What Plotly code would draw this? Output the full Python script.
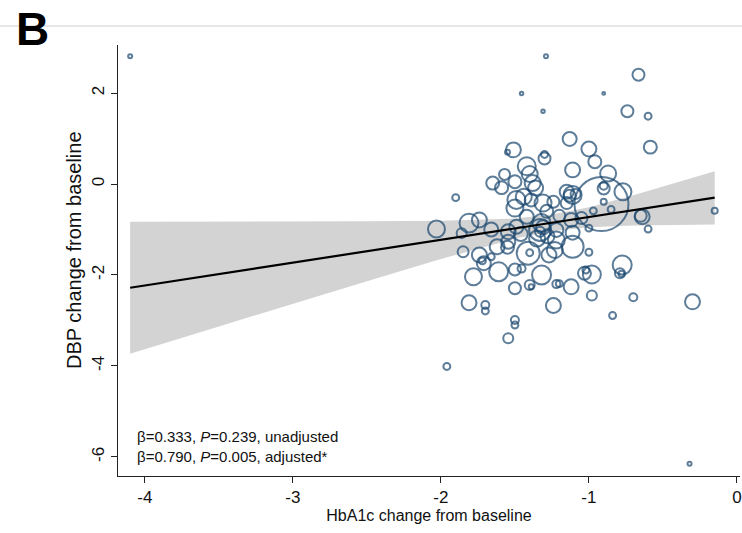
import plotly.graph_objects as go
import numpy as np

# ---- data ----
hba1c_change = [
    -4.10, -1.29, -1.455, -1.31, -0.90, -0.665, -0.74, -0.60, -0.32, -0.15,
    -1.96, -1.13, -1.00, -0.585, -1.51, -1.55, -1.30, -1.30, -0.96, -1.11,
    -1.42, -1.40, -0.87, -1.57, -1.65, -1.50, -1.59, -1.38, -1.36, -0.90,
    -0.90, -0.77, -0.915, -0.90, -1.90, -1.15, -1.11, -1.09, -1.13, -1.44,
    -1.31, -1.50, -1.24, -1.15, -1.285, -1.49, -1.39, -0.97, -0.85, -0.64,
    -0.65, -0.60, -1.00, -2.03, -1.81, -1.74, -1.86, -1.66, -1.545, -1.49,
    -1.33, -1.32, -1.31, -1.33, -1.22, -1.11, -1.12, -1.545, -1.22, -1.11,
    -1.62, -1.55, -1.85, -1.74, -1.72, -1.66, -1.41, -1.40, -1.27, -1.23,
    -1.00, -1.71, -1.61, -1.50, -1.455, -1.32, -1.78, -0.775, -0.79, -0.78,
    -1.03, -1.02, -0.98, -1.50, -1.40, -1.39, -1.22, -1.20, -1.12, -0.98,
    -0.70, -1.81, -1.70, -1.70, -1.24, -0.84, -0.30, -1.50, -1.50, -1.545,
    -1.42, -1.20, -1.35, -1.28, -1.05, -1.46,
]
dbp_change = [
    2.81, 2.81, 1.99, 1.60, 1.99, 2.40, 1.60, 1.49, -6.15, -0.59,
    -4.01, 0.99, 0.77, 0.81, 0.75, 0.70, 0.65, 0.56, 0.49, 0.31,
    0.39, 0.22, 0.23, 0.21, 0.02, 0.05, -0.08, 0.02, -0.09, -0.10,
    -0.04, -0.17, -0.44, -0.39, -0.30, -0.17, -0.24, -0.22, -0.26, -0.28,
    -0.42, -0.53, -0.39, -0.42, -0.60, -0.35, -0.35, -0.59, -0.56, -0.72,
    -0.70, -0.99, -0.97, -0.99, -0.86, -0.79, -1.08, -1.00, -1.05, -0.94,
    -1.01, -0.86, -0.95, -1.05, -1.01, -1.07, -0.79, -1.27, -1.23, -1.38,
    -1.38, -1.39, -1.49, -1.56, -1.69, -1.60, -1.52, -1.51, -1.56, -1.45,
    -1.50, -1.74, -1.93, -1.88, -1.86, -2.00, -2.04, -1.78, -1.96, -1.97,
    -1.96, -1.89, -1.99, -2.29, -2.22, -2.26, -2.20, -2.19, -2.26, -2.45,
    -2.49, -2.61, -2.66, -2.79, -2.67, -2.89, -2.59, -2.99, -3.10, -3.39,
    -0.72, -0.70, -1.20, -1.15, -0.75, -1.10,
]
study_weight = [
    4, 4, 3, 3, 2, 36, 36, 12, 4, 9,
    12, 49, 56, 42, 56, 6, 12, 36, 42, 56,
    81, 64, 64, 30, 42, 42, 42, 64, 56, 36,
    16, 72, 729, 9, 12, 49, 81, 25, 36, 64,
    72, 72, 36, 36, 42, 81, 42, 12, 12, 56,
    36, 12, 12, 72, 90, 56, 25, 49, 56, 49,
    121, 81, 49, 25, 49, 49, 49, 49, 72, 121,
    56, 42, 30, 56, 12, 12, 132, 12, 56, 64,
    12, 49, 90, 36, 16, 90, 72, 90, 25, 9,
    42, 12, 81, 36, 25, 6, 16, 12, 56, 25,
    16, 56, 16, 12, 56, 12, 56, 16, 12, 25,
    49, 36, 64, 49, 36, 49,
]

# fitted line and its confidence band
fit_x = [-4.10, -0.15]
fit_y = [-2.28, -0.30]
ci_x = [-4.10, -3.5, -3.0, -2.5, -2.0, -1.5, -1.25, -1.0, -0.7, -0.4, -0.15]
ci_upper = [-0.83, -0.83, -0.83, -0.82, -0.81, -0.76, -0.67, -0.51, -0.25, 0.04, 0.28]
ci_lower = [-3.73, -3.13, -2.63, -2.14, -1.65, -1.20, -1.04, -0.95, -0.91, -0.90, -0.89]

x_ticks = [-4, -3, -2, -1, 0]
y_ticks = [2, 0, -2, -4, -6]

FONT = "Liberation Sans, Arial, sans-serif"
NAVY = "#1a476f"
PW, PH = 622, 431  # plot area size in px (for paper-coordinate placement)

fig = go.Figure()

# confidence band
fig.add_trace(go.Scatter(
    x=ci_x + ci_x[::-1], y=ci_upper + ci_lower[::-1],
    fill="toself", fillcolor="#d3d3d3", line=dict(width=0),
    mode="lines", hoverinfo="skip", showlegend=False))

# weighted scatter (open circles)
diam = [2 * np.sqrt(w) for w in study_weight]
fig.add_trace(go.Scatter(
    x=hba1c_change, y=dbp_change, mode="markers",
    marker=dict(size=diam, sizemode="diameter", color="rgba(0,0,0,0)",
                line=dict(color=NAVY, width=2)),
    showlegend=False))

# fitted line
fig.add_trace(go.Scatter(
    x=fit_x, y=fit_y, mode="lines",
    line=dict(color="black", width=2.2), showlegend=False))

fig.update_layout(
    width=742, height=533,
    margin=dict(l=118, r=2, t=45, b=57, autoexpand=False),
    paper_bgcolor="white", plot_bgcolor="white",
    font=dict(family=FONT, color="#111111", size=16),
    xaxis=dict(range=[-4.182, 0.021], tickvals=x_ticks,
               ticktext=[str(v) for v in x_ticks],
               showgrid=False, zeroline=False, showline=True, automargin=False,
               linecolor="#222222", linewidth=1,
               ticks="outside", ticklen=6, tickcolor="#222222",
               tickfont=dict(size=17),
               title=dict(text="HbA1c change from baseline", font=dict(size=16), standoff=2)),
    yaxis=dict(range=[-6.418, 3.055], tickvals=y_ticks,
               ticktext=[str(v) for v in y_ticks],
               showgrid=False, zeroline=False, showline=True, automargin=False,
               linecolor="#222222", linewidth=1,
               ticks="outside", ticklen=6, tickcolor="#222222",
               tickangle=-90, tickfont=dict(size=17)),
)

# y-axis title (placed as rotated text to match the reference position)
fig.add_annotation(text="DBP change from baseline", xref="paper", yref="paper",
                   x=(74 - 118) / PW, y=(476 - 250) / PH, textangle=-90,
                   xanchor="center", yanchor="middle", showarrow=False,
                   font=dict(size=20, family=FONT, color="#111111"))

# top rule and panel letter
fig.add_shape(type="line", xref="paper", yref="paper",
              x0=-118 / PW, x1=624 / PW, y0=1 + 19 / PH, y1=1 + 19 / PH,
              line=dict(color="#cfcfcf", width=1))
fig.add_annotation(text="<b>B</b>", xref="paper", yref="paper",
                   x=-104 / PW, y=1 + 16 / PH, xanchor="left", yanchor="middle",
                   showarrow=False, font=dict(size=46, family=FONT, color="black"))

fig.add_annotation(
    text="β=0.333, <i>P</i>=0.239, unadjusted<br>β=0.790, <i>P</i>=0.005, adjusted*",
    xref="paper", yref="paper", x=17 / PW, y=(476 - 426) / PH,
    xanchor="left", yanchor="top", align="left", showarrow=False,
    font=dict(size=15, family=FONT, color="#111111"))

fig.write_html("out.html", config={"displayModeBar": False},
               post_script="document.body.style.margin='0px';document.body.style.padding='0px';")
